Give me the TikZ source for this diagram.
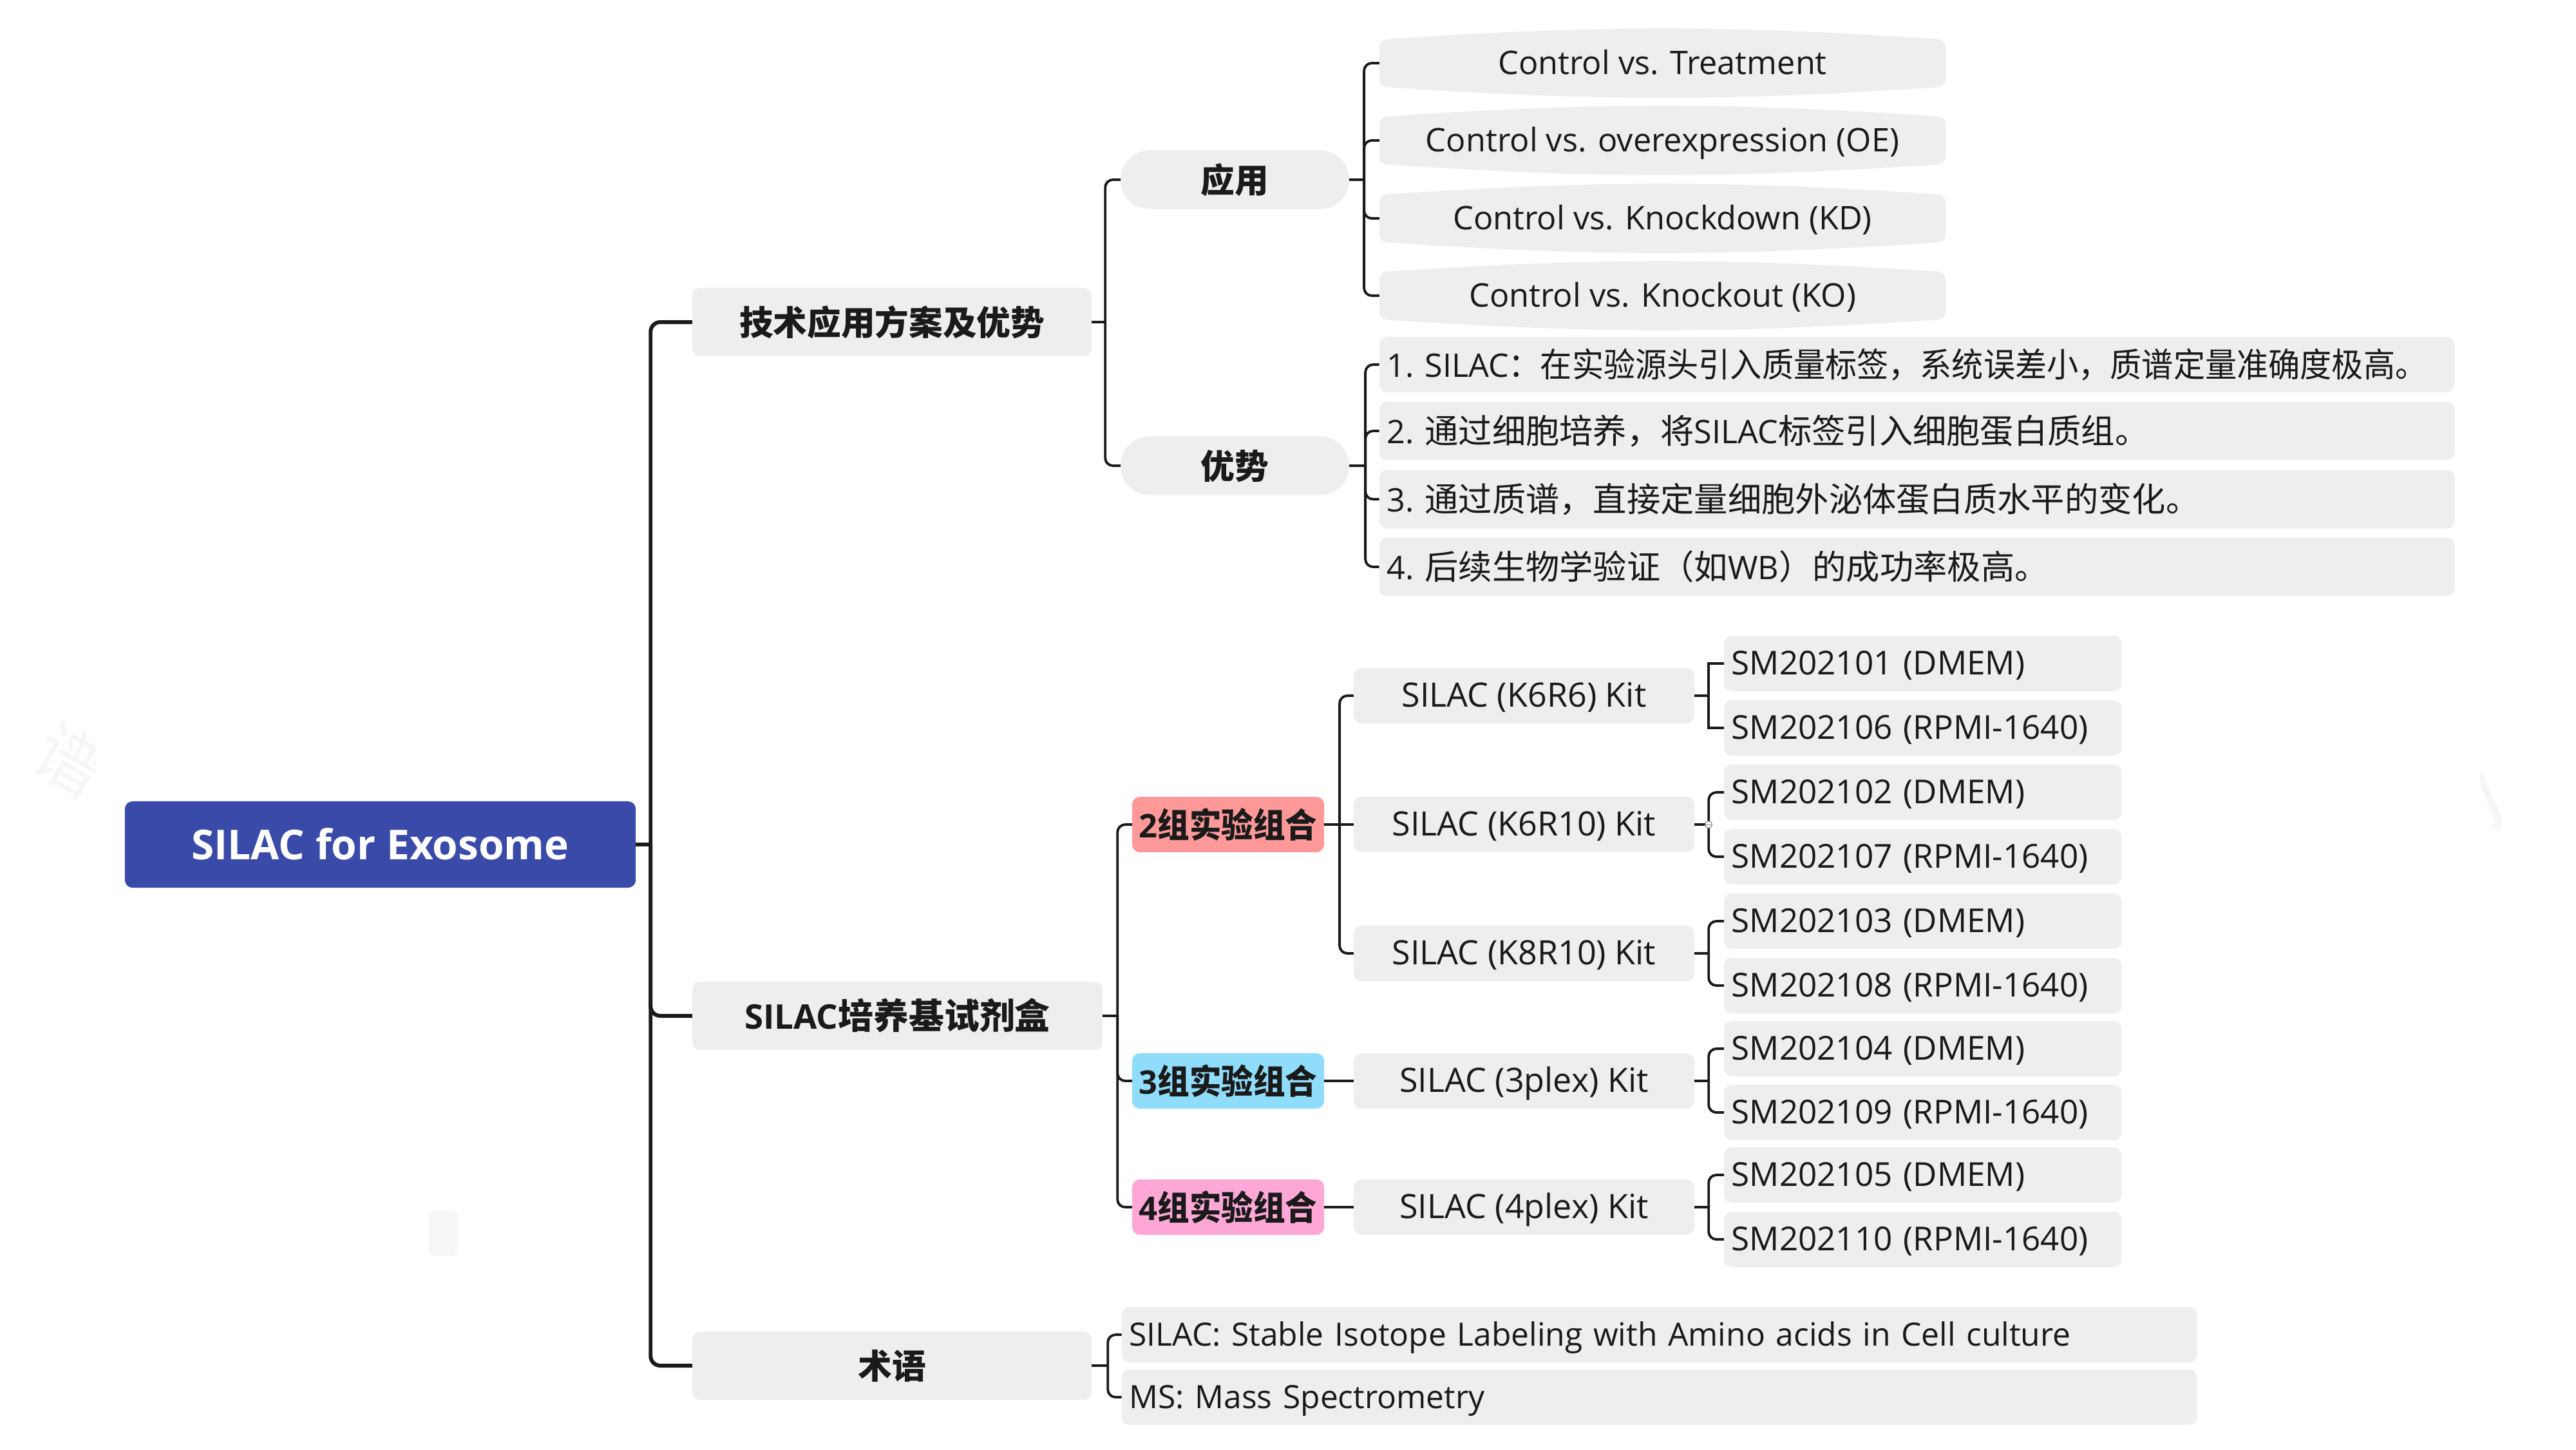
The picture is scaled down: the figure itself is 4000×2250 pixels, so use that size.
\documentclass[tikz,border=0pt]{standalone}
\usepackage{xcolor}
\usepackage{fontspec}
\setmainfont{Open Sans}
\newfontfamily\cjk{Noto Sans CJK SC}[Scale=1.04]
\newfontfamily\cjkthin{Noto Sans CJK SC}[Scale=1.04, FakeStretch=0.94]
\newcommand{\zh}[1]{{\cjk #1}}
\newcommand{\zhthin}[1]{{\cjkthin #1}}
\definecolor{boxgray}{HTML}{EEEEEE}
\definecolor{inkdark}{HTML}{1A1A1A}
\definecolor{rootblue}{HTML}{3A4AA8}
\definecolor{markpale}{HTML}{F6F6F6}
\definecolor{twored}{HTML}{FF9999}
\definecolor{threeblue}{HTML}{8FDDFA}
\definecolor{fourpink}{HTML}{FFA8D8}
\tikzset{
    plainbox/.style={fill=boxgray, rounded corners=0.12cm, text=inkdark, inner sep=0pt, outer sep=0pt,
        minimum height=0.86cm, text height=0.44cm, text depth=0.10cm, align=center,
        font=\fontsize{14.3pt}{16pt}\selectfont},
    headbox/.style={plainbox, minimum width=6.2cm, minimum height=1.06cm, text height=0.50cm, font=\fontsize{14.4pt}{16pt}\selectfont\bfseries},
    pillbox/.style={plainbox, rounded corners=0.45cm, minimum width=3.55cm, minimum height=0.91cm, text height=0.50cm, font=\fontsize{14.4pt}{16pt}\selectfont\bfseries},
    ctrlbox/.style={plainbox, minimum width=8.79cm, minimum height=0.74cm, font=\fontsize{14.35pt}{16pt}\selectfont},
    longbox/.style={plainbox, text width=16.45cm, inner xsep=0.12cm, align=left, text height=0.49cm, font=\fontsize{14.3pt}{16pt}\selectfont\frenchspacing},
    termbox/.style={longbox, text height=0.44cm, font=\fontsize{14.15pt}{16pt}\selectfont},
    groupbox/.style={plainbox, minimum width=2.98cm, text height=0.50cm, font=\fontsize{14.4pt}{16pt}\selectfont\bfseries},
    kitbox/.style={plainbox, minimum width=5.29cm, font=\fontsize{14.8pt}{16pt}\selectfont},
    smbox/.style={plainbox, text width=5.93cm, inner xsep=0.12cm, align=left, font=\fontsize{14.55pt}{16pt}\selectfont},
    trunk/.style={draw=inkdark, line width=1.7pt, rounded corners=0.15cm},
    trunkstem/.style={draw=inkdark, line width=1.7pt},
    link/.style={draw=inkdark, line width=1.1pt, rounded corners=0.12cm},
    stem/.style={draw=inkdark, line width=1.3pt},
    foldmark/.style={circle, draw=gray, line width=0.3pt, fill=white, minimum size=0.11cm, inner sep=0pt}
}
\begin{document}
\begin{tikzpicture}[x=0.01cm, y=-0.01cm]
    \useasboundingbox (0,0) rectangle (4000,2250);

    % pale marks
    \begin{scope}
        \clip (0,1100) rectangle (148,1250);
        \node[rotate=-30, text=markpale, font=\fontsize{30pt}{32pt}\selectfont] (markleft) at (110,1180) {\zh{谱}};
    \end{scope}
    \fill[markpale] (3851,1200) .. controls (3858,1203) and (3858,1207) .. (3860,1215) -- (3883,1265) .. controls (3886,1275) and (3885,1285) .. (3880,1290) .. controls (3874,1288) and (3870,1283) .. (3863,1280) .. controls (3870,1280) and (3875,1279) .. (3875,1277) -- (3851,1217) -- cycle;
    \node[fill=markpale, rounded corners=0.1cm, minimum width=0.45cm, minimum height=0.7cm, inner sep=0pt] (markrect) at (688,1915) {};

    % root
    \node[plainbox, fill=rootblue, text=white, minimum width=7.93cm, minimum height=1.34cm, text height=0.61cm, text depth=0.14cm, font=\fontsize{18.2pt}{20pt}\selectfont\bfseries] (root) at (590.5,1311) {SILAC for Exosome};

    % first level
    \node[headbox] (tech) at (1385,500) {\zh{技术应用方案及优势}};
    \node[headbox, minimum width=6.37cm, font=\fontsize{15pt}{16pt}\selectfont\bfseries] (kits) at (1393.5,1577) {SILAC\zh{培养基试剂盒}};
    \node[headbox] (terms) at (1385,2120) {\zh{术语}};

    % application and advantages
    \node[pillbox] (apply) at (1917.5,279) {\zh{应用}};
    \node[pillbox] (merit) at (1917.5,723) {\zh{优势}};
    \node[ctrlbox] (ctrla) at (2581.5,98) {Control vs. Treatment};
    \node[ctrlbox] (ctrlb) at (2581.5,218) {Control vs. overexpression (OE)};
    \node[ctrlbox] (ctrlc) at (2581.5,339) {Control vs. Knockdown (KD)};
    \node[ctrlbox] (ctrld) at (2581.5,459) {Control vs. Knockout (KO)};
    \foreach \n in {ctrla,ctrlb,ctrlc,ctrld} {
        \fill[boxgray] ([xshift=0.06cm]\n.north west) to[out=3.8,in=176.2] ([xshift=-0.06cm]\n.north east) -- cycle;
        \fill[boxgray] ([xshift=0.06cm]\n.south west) to[out=-3.8,in=-176.2] ([xshift=-0.06cm]\n.south east) -- cycle;
    }
    \node[longbox] (meritone) at (2976.5,566) {1. SILAC\zhthin{：在实验源头引入质量标签，系统误差小，质谱定量准确度极高。}};
    \node[longbox, minimum height=0.91cm] (merittwo) at (2976.5,669) {2. \zh{通过细胞培养，将}SILAC\zh{标签引入细胞蛋白质组。}};
    \node[longbox, minimum height=0.91cm] (meritthree) at (2976.5,775) {3. \zh{通过质谱，直接定量细胞外泌体蛋白质水平的变化。}};
    \node[longbox, minimum height=0.91cm] (meritfour) at (2976.5,880) {4. \zh{后续生物学验证（如}WB\zh{）的成功率极高。}};

    % medium kits
    \node[groupbox, fill=twored] (grouptwo) at (1907,1280) {2\zhthin{组实验组合}};
    \node[groupbox, fill=threeblue] (groupthree) at (1907,1678) {3\zhthin{组实验组合}};
    \node[groupbox, fill=fourpink] (groupfour) at (1907,1874) {4\zhthin{组实验组合}};
    \node[kitbox] (kitkrsix) at (2366.5,1080) {SILAC (K6R6) Kit};
    \node[kitbox] (kitkrten) at (2366.5,1280) {SILAC (K6R10) Kit};
    \node[kitbox] (kitkeight) at (2366.5,1480) {SILAC (K8R10) Kit};
    \node[kitbox] (kitthree) at (2366.5,1678) {SILAC (3plex) Kit};
    \node[kitbox] (kitfour) at (2366.5,1874) {SILAC (4plex) Kit};
    \node[smbox] (smone) at (2985.5,1030) {SM202101 (DMEM)};
    \node[smbox] (smsix) at (2985.5,1130) {SM202106 (RPMI-1640)};
    \node[smbox] (smtwo) at (2985.5,1230) {SM202102 (DMEM)};
    \node[smbox] (smseven) at (2985.5,1330) {SM202107 (RPMI-1640)};
    \node[smbox] (smthree) at (2985.5,1430) {SM202103 (DMEM)};
    \node[smbox] (smeight) at (2985.5,1530) {SM202108 (RPMI-1640)};
    \node[smbox] (smfour) at (2985.5,1628) {SM202104 (DMEM)};
    \node[smbox] (smnine) at (2985.5,1727) {SM202109 (RPMI-1640)};
    \node[smbox] (smfive) at (2985.5,1824) {SM202105 (DMEM)};
    \node[smbox] (smten) at (2985.5,1924) {SM202110 (RPMI-1640)};

    % terms
    \node[termbox] (termsilac) at (2576.5,2072) {SILAC: Stable Isotope Labeling with Amino acids in Cell culture};
    \node[termbox] (termms) at (2576.5,2169) {MS: Mass Spectrometry};

    % connectors
    \draw[trunkstem] (root.east) -- ++(23,0) coordinate (rootj);
    \draw[trunk] (rootj) |- (tech.west);
    \draw[trunk] (rootj) |- (kits.west);
    \draw[trunk] (rootj) |- (terms.west);

    \draw[stem] (tech.east) -- ++(21,0) coordinate (techj);
    \draw[link] (techj) |- (apply.west);
    \draw[link] (techj) |- (merit.west);
    \draw[stem] (apply.east) -- ++(23,0) coordinate (applyj);
    \draw[link] (applyj) |- (ctrla.west);
    \draw[link] (applyj) |- (ctrlb.west);
    \draw[link] (applyj) |- (ctrlc.west);
    \draw[link] (applyj) |- (ctrld.west);
    \draw[stem] (merit.east) -- ++(25,0) coordinate (meritj);
    \draw[link] (meritj) |- (meritone.west);
    \draw[link] (meritj) |- (merittwo.west);
    \draw[link] (meritj) |- (meritthree.west);
    \draw[link] (meritj) |- (meritfour.west);

    \draw[stem] (kits.east) -- ++(23,0) coordinate (kitsj);
    \draw[link] (kitsj) |- (grouptwo.west);
    \draw[link] (kitsj) |- (groupthree.west);
    \draw[link] (kitsj) |- (groupfour.west);
    \draw[stem] (grouptwo.east) -- (kitkrten.west);
    \draw[stem] (groupthree.east) -- (kitthree.west);
    \draw[stem] (groupfour.east) -- (kitfour.west);
    \coordinate (twoj) at ([xshift=0.24cm]grouptwo.east);
    \draw[link] (twoj) |- (kitkrsix.west);
    \draw[link] (twoj) |- (kitkeight.west);

    \draw[stem] (kitkrsix.east) -- ++(22,0) coordinate (krsixj);
    \draw[link, sharp corners] (krsixj) |- (smone.west);
    \draw[link, sharp corners] (krsixj) |- (smsix.west);
    \draw[stem] (kitkrten.east) -- ++(22,0) coordinate (krtenj);
    \draw[link] (krtenj) |- (smtwo.west);
    \draw[link] (krtenj) |- (smseven.west);
    \draw[stem] (kitkeight.east) -- ++(22,0) coordinate (keightj);
    \draw[link] (keightj) |- (smthree.west);
    \draw[link] (keightj) |- (smeight.west);
    \draw[stem] (kitthree.east) -- ++(22,0) coordinate (threej);
    \draw[link] (threej) |- (smfour.west);
    \draw[link] (threej) |- (smnine.west);
    \draw[stem] (kitfour.east) -- ++(22,0) coordinate (fourj);
    \draw[link] (fourj) |- (smfive.west);
    \draw[link] (fourj) |- (smten.west);

    \draw[stem] (terms.east) -- ++(25,0) coordinate (termsj);
    \draw[link] (termsj) |- (termsilac.west);
    \draw[link] (termsj) |- (termms.west);

    % fold mark on the K6R10 branch
    \node[foldmark] (fold) at (krtenj) {};
    \draw[gray, line width=0.3pt] (fold.west) -- (fold.east);
\end{tikzpicture}
\end{document}
